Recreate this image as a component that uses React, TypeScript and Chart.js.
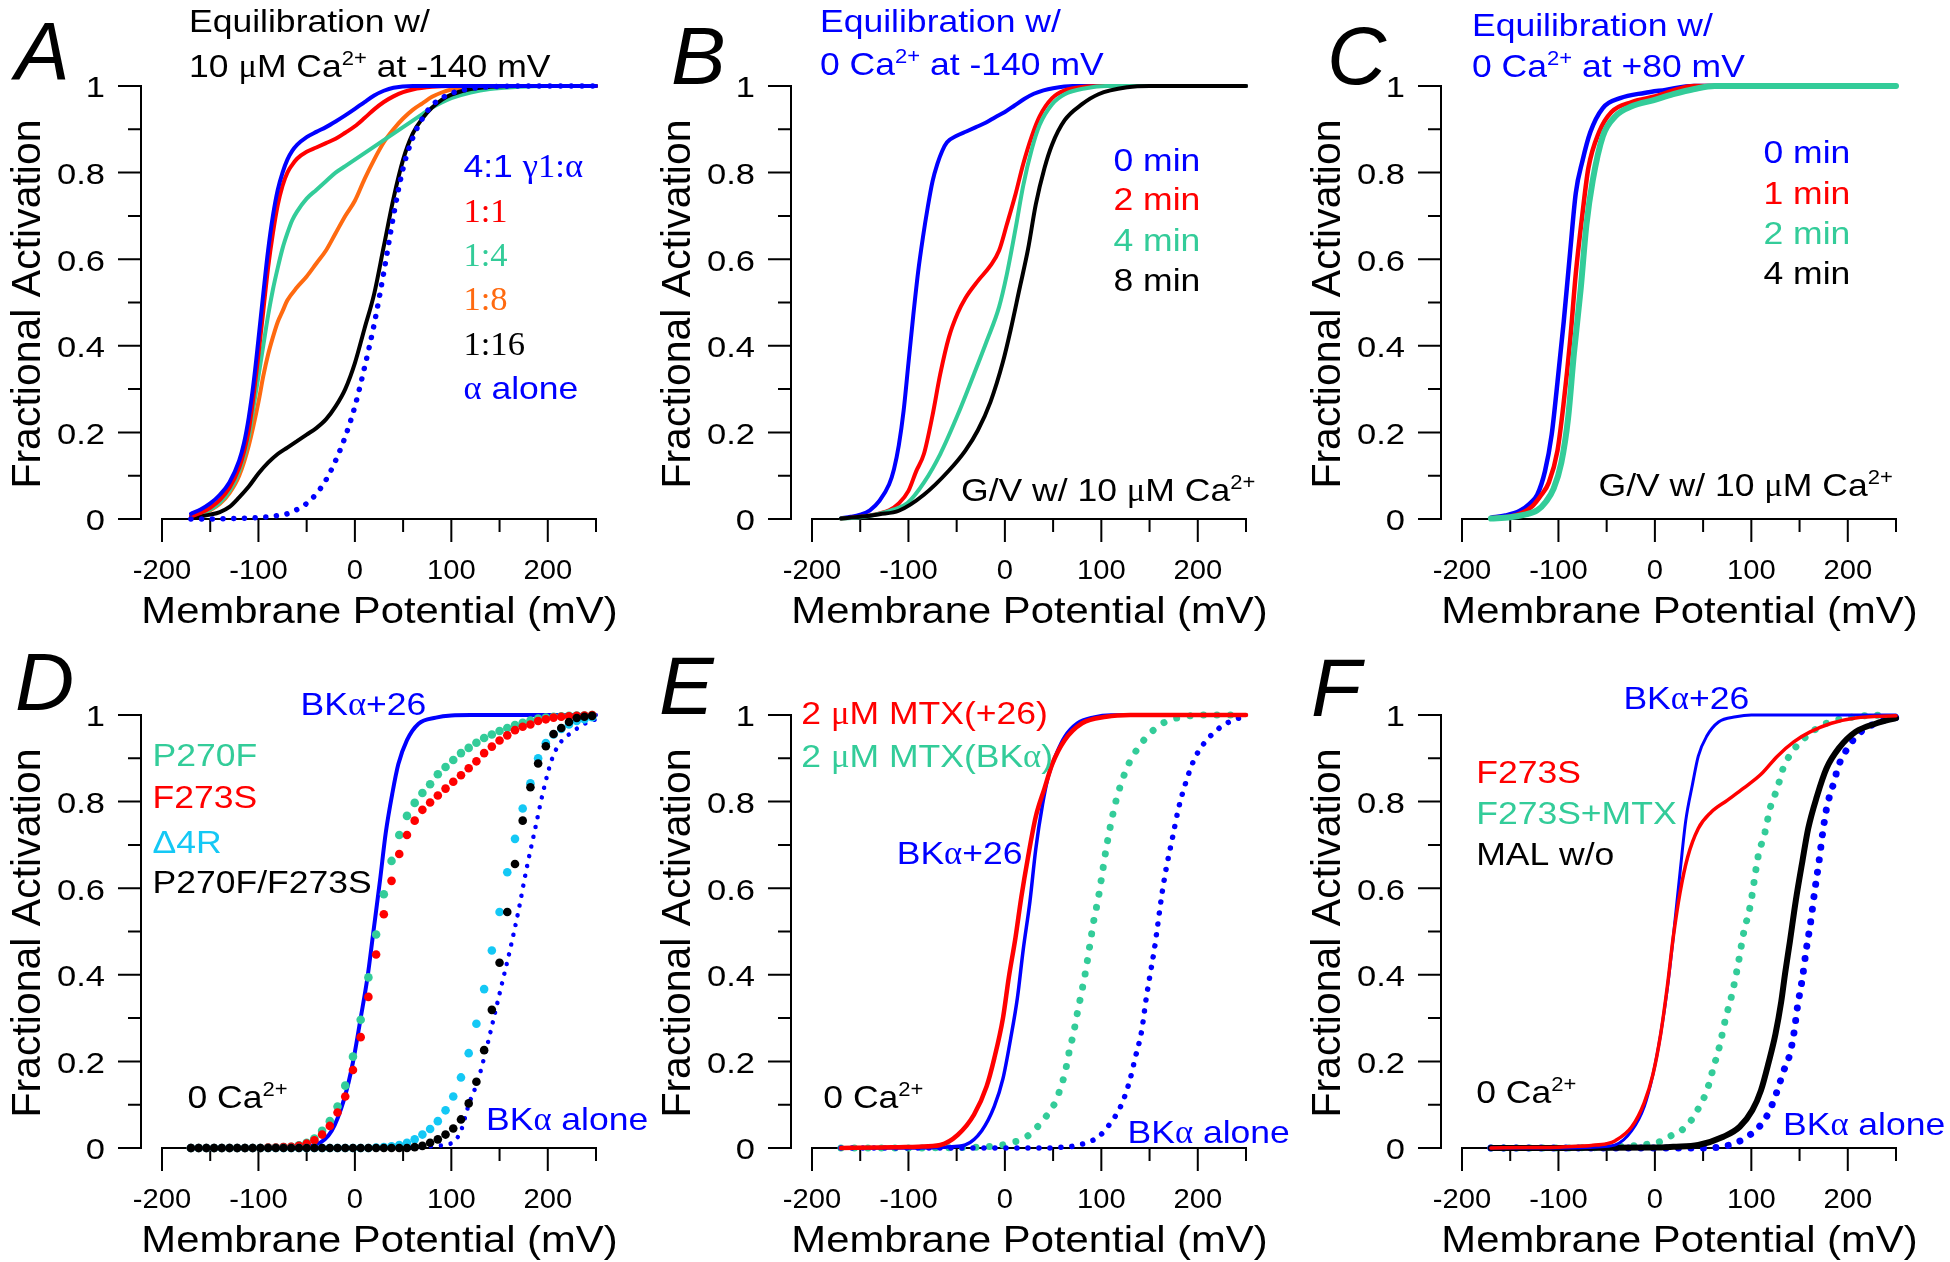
import React, { useEffect, useRef } from 'react';
import { Chart, registerables } from 'chart.js';

Chart.register(...registerables);

type Pt = [number, number];

// ---------------- Panel A: 10 uM Ca, -140 mV ----------------
const A_4to1: Pt[] = [[-170,0.012],[-160,0.022],[-150,0.036],[-140,0.056],[-130,0.085],[-120,0.135],[-115,0.175],[-110,0.235],[-105,0.315],[-100,0.415],[-95,0.52],[-90,0.62],[-85,0.70],[-80,0.76],[-75,0.80],[-70,0.83],[-65,0.85],[-60,0.864],[-50,0.882],[-40,0.894],[-30,0.905],[-20,0.918],[-10,0.932],[0,0.947],[10,0.963],[20,0.978],[30,0.989],[40,0.996],[60,1],[100,1],[250,1]];
const A_1to1: Pt[] = [[-170,0.006],[-160,0.014],[-150,0.026],[-140,0.044],[-130,0.072],[-120,0.118],[-115,0.155],[-110,0.205],[-105,0.285],[-100,0.38],[-95,0.48],[-90,0.58],[-85,0.66],[-80,0.725],[-75,0.77],[-70,0.80],[-65,0.818],[-60,0.832],[-50,0.848],[-40,0.858],[-30,0.868],[-20,0.878],[-10,0.892],[0,0.907],[10,0.926],[20,0.946],[30,0.963],[40,0.976],[50,0.986],[60,0.992],[80,0.998],[100,1],[250,1]];
const A_1to4: Pt[] = [[-170,0.005],[-160,0.012],[-150,0.022],[-140,0.038],[-130,0.065],[-120,0.11],[-110,0.19],[-105,0.26],[-100,0.33],[-95,0.40],[-90,0.47],[-85,0.53],[-80,0.58],[-75,0.625],[-70,0.66],[-65,0.69],[-60,0.71],[-50,0.74],[-40,0.76],[-30,0.78],[-20,0.80],[-10,0.815],[0,0.83],[10,0.845],[20,0.86],[30,0.875],[40,0.89],[50,0.905],[60,0.92],[70,0.935],[80,0.95],[90,0.962],[100,0.972],[120,0.985],[140,0.993],[170,0.998],[200,1],[250,1]];
const A_1to8: Pt[] = [[-170,0.005],[-160,0.01],[-150,0.02],[-140,0.035],[-130,0.06],[-120,0.10],[-110,0.17],[-100,0.27],[-95,0.33],[-90,0.38],[-85,0.42],[-80,0.455],[-75,0.48],[-70,0.505],[-60,0.535],[-50,0.56],[-40,0.59],[-30,0.62],[-20,0.66],[-10,0.70],[0,0.735],[10,0.785],[20,0.83],[30,0.87],[40,0.90],[50,0.925],[60,0.945],[70,0.96],[80,0.975],[90,0.985],[100,0.992],[120,0.998],[140,1],[250,1]];
const A_1to16: Pt[] = [[-170,0.003],[-160,0.006],[-150,0.01],[-140,0.016],[-130,0.028],[-120,0.05],[-110,0.075],[-100,0.105],[-90,0.13],[-80,0.15],[-70,0.165],[-60,0.18],[-50,0.195],[-40,0.21],[-30,0.23],[-20,0.26],[-10,0.30],[0,0.36],[10,0.44],[20,0.52],[30,0.63],[40,0.74],[50,0.83],[60,0.89],[70,0.925],[80,0.95],[90,0.968],[100,0.98],[120,0.993],[140,0.998],[170,1],[250,1]];
const A_alone: Pt[] = [[-170,0],[-150,0],[-130,0.001],[-110,0.002],[-90,0.005],[-80,0.008],[-70,0.012],[-60,0.022],[-50,0.036],[-40,0.058],[-30,0.09],[-20,0.135],[-10,0.19],[0,0.26],[10,0.35],[20,0.45],[30,0.57],[40,0.70],[50,0.81],[60,0.88],[70,0.925],[80,0.955],[90,0.972],[100,0.983],[120,0.994],[140,0.998],[170,1],[250,1]];

// ---------------- Panel B: 0 Ca at -140 mV ----------------
const B_0min: Pt[] = [[-170,0.002],[-160,0.005],[-150,0.01],[-140,0.02],[-130,0.042],[-120,0.08],[-115,0.115],[-110,0.17],[-105,0.25],[-100,0.36],[-95,0.47],[-90,0.57],[-85,0.65],[-80,0.72],[-75,0.78],[-70,0.82],[-65,0.85],[-60,0.87],[-50,0.885],[-40,0.895],[-30,0.905],[-20,0.915],[-10,0.928],[0,0.94],[10,0.955],[20,0.97],[30,0.982],[40,0.99],[50,0.995],[70,1],[250,1]];
const B_2min: Pt[] = [[-170,0.001],[-150,0.005],[-130,0.013],[-120,0.02],[-110,0.036],[-100,0.065],[-92,0.11],[-84,0.15],[-75,0.24],[-67,0.335],[-58,0.42],[-49,0.475],[-41,0.51],[-28,0.55],[-15,0.585],[-6,0.62],[2,0.68],[11,0.75],[19,0.82],[28,0.885],[36,0.93],[49,0.972],[62,0.99],[80,0.998],[100,1],[250,1]];
const B_4min: Pt[] = [[-170,0.001],[-150,0.004],[-130,0.012],[-115,0.022],[-101,0.037],[-84,0.084],[-67,0.15],[-49,0.24],[-32,0.335],[-19,0.41],[-6,0.49],[2,0.565],[11,0.67],[19,0.77],[28,0.855],[36,0.91],[49,0.958],[62,0.981],[84,0.995],[105,1],[250,1]];
const B_8min: Pt[] = [[-170,0.001],[-150,0.005],[-130,0.011],[-110,0.019],[-84,0.056],[-58,0.112],[-41,0.158],[-28,0.205],[-15,0.27],[-2,0.363],[6,0.437],[15,0.53],[24,0.623],[32,0.726],[41,0.81],[49,0.865],[62,0.921],[80,0.958],[97,0.981],[127,0.997],[150,1],[250,1]];

// ---------------- Panel C: 0 Ca at +80 mV ----------------
const C_0min: Pt[] = [[-170,0.003],[-155,0.008],[-140,0.019],[-130,0.035],[-122,0.056],[-114,0.11],[-107,0.195],[-101,0.316],[-94.5,0.456],[-88,0.614],[-82,0.753],[-75,0.828],[-67,0.893],[-54,0.949],[-36,0.972],[-11,0.984],[11,0.991],[40,1],[250,1]];
const C_1min: Pt[] = [[-170,0.002],[-150,0.006],[-137,0.015],[-127,0.03],[-118,0.055],[-110,0.084],[-101,0.158],[-94.5,0.27],[-88,0.409],[-82,0.567],[-75,0.707],[-69,0.81],[-58,0.893],[-45,0.94],[-24,0.963],[2,0.977],[19,0.99],[41,1],[250,1]];
const C_2min: Pt[] = [[-170,0.001],[-150,0.004],[-135,0.01],[-122,0.02],[-113,0.04],[-105,0.07],[-97,0.13],[-90,0.233],[-84,0.381],[-77,0.53],[-71,0.679],[-64.5,0.781],[-54,0.884],[-41,0.93],[-24,0.953],[-2,0.967],[19,0.981],[41,0.993],[62,1],[250,1]];
const C_4min: Pt[] = [[-170,0.001],[-150,0.004],[-135,0.01],[-122,0.02],[-113,0.04],[-105,0.07],[-97,0.13],[-90,0.233],[-84,0.381],[-77,0.53],[-71,0.679],[-64.5,0.781],[-54,0.884],[-41,0.93],[-24,0.953],[-2,0.967],[19,0.981],[41,0.993],[62,1],[250,1]];

// ---------------- Panel D: mutants, 0 Ca ----------------
const D_BK26: Pt[] = [[-170,0],[-100,0],[-70,0.001],[-55,0.003],[-41,0.007],[-24,0.04],[-11,0.114],[-2,0.198],[6,0.3],[13,0.393],[19,0.496],[26,0.617],[32,0.728],[39,0.821],[45,0.886],[54,0.942],[66,0.98],[84,0.994],[100,0.999],[120,1],[250,1]];
const D_BKalone: Pt[] = [[-170,0],[0,0],[40,0],[62,0.001],[84,0.005],[101,0.012],[110,0.04],[118,0.1],[127,0.152],[135,0.217],[144,0.3],[152,0.375],[161,0.459],[170,0.552],[178,0.645],[187,0.738],[195,0.821],[204,0.896],[212,0.933],[225,0.96],[242,0.984],[250,0.99]];
const D_V: number[] = [-170,-162,-154,-146,-138,-130,-122,-114,-106,-98,-90,-82,-74,-66,-58,-50,-42,-34,-26,-18,-10,-2,6,14,22,30,38,46,54,62,70,78,86,94,102,110,118,126,134,142,150,158,166,174,182,190,198,206,214,222,230,238,246];
const D_P270F: number[] = [0,0,0,0,0,0,0,0,0,0,0.001,0.001,0.002,0.003,0.006,0.012,0.022,0.04,0.062,0.096,0.144,0.211,0.296,0.394,0.493,0.586,0.663,0.723,0.767,0.797,0.82,0.84,0.863,0.88,0.896,0.912,0.924,0.936,0.947,0.955,0.963,0.97,0.977,0.982,0.987,0.992,0.994,0.996,0.997,0.998,0.999,0.999,1.0];
const D_F273S: number[] = [0,0,0,0,0,0,0,0,0,0,0.001,0.001,0.002,0.003,0.005,0.01,0.018,0.031,0.051,0.082,0.119,0.18,0.256,0.349,0.447,0.54,0.617,0.679,0.723,0.756,0.781,0.798,0.814,0.83,0.846,0.861,0.877,0.893,0.912,0.927,0.941,0.953,0.965,0.973,0.978,0.986,0.99,0.994,0.996,0.997,0.998,0.999,1.0];
const D_D4R: number[] = [0,0,0,0,0,0,0,0,0,0,0,0,0,0,0,0,0,0,0,0,0,0,0,0,0.001,0.002,0.004,0.007,0.012,0.02,0.031,0.044,0.062,0.087,0.119,0.163,0.219,0.287,0.367,0.456,0.545,0.637,0.714,0.784,0.842,0.9,0.935,0.955,0.968,0.978,0.986,0.99,0.995];
const D_DOUBLE: number[] = [0,0,0,0,0,0,0,0,0,0,0,0,0,0,0,0,0,0,0,0,0,0,0,0,0,0,0,0,0,0.002,0.005,0.012,0.02,0.031,0.045,0.066,0.103,0.153,0.226,0.319,0.428,0.545,0.656,0.756,0.833,0.888,0.928,0.956,0.97,0.984,0.993,0.996,0.998];

// ---------------- Panel E: MTX ----------------
const E_MTX26: Pt[] = [[-170,0],[-130,0.001],[-110,0.002],[-90,0.003],[-67,0.007],[-49,0.03],[-32,0.077],[-19,0.142],[-11,0.207],[-2,0.3],[4,0.393],[11,0.486],[17,0.579],[24,0.672],[32,0.765],[41,0.83],[49,0.886],[62,0.942],[80,0.981],[105,0.996],[130,1],[250,1]];
const E_MTXBK: Pt[] = [[-170,0],[-100,0],[-50,0.001],[-20,0.003],[0,0.008],[6,0.012],[19,0.021],[30,0.04],[39,0.063],[47,0.086],[54,0.114],[58,0.142],[62,0.17],[67,0.226],[71,0.263],[75,0.31],[80,0.365],[84,0.412],[88,0.467],[92,0.523],[97,0.579],[101,0.635],[105,0.691],[110,0.75],[115,0.80],[121,0.845],[129,0.89],[140,0.93],[148,0.952],[159,0.974],[170,0.988],[183,0.995],[196,0.999],[210,1],[240,1]];
const E_BK26: Pt[] = [[-170,0],[-100,0],[-70,0.001],[-55,0.003],[-41,0.007],[-24,0.04],[-11,0.096],[-2,0.16],[6,0.253],[13,0.347],[19,0.458],[26,0.57],[32,0.69],[39,0.793],[45,0.858],[54,0.914],[62,0.95],[75,0.981],[92,0.995],[110,1],[250,1]];
const E_BKalone: Pt[] = [[-170,0],[40,0],[60,0.002],[75,0.006],[97,0.026],[110,0.059],[120,0.096],[129,0.152],[135,0.207],[142,0.273],[146,0.338],[150,0.393],[155,0.459],[159,0.524],[163,0.589],[168,0.654],[174,0.719],[180,0.784],[187,0.84],[196,0.896],[206,0.933],[217,0.96],[230,0.981],[243,0.993],[250,0.996]];

// ---------------- Panel F: F273S ----------------
const F_BK26: Pt[] = [[-170,0],[-100,0],[-70,0.001],[-55,0.003],[-41,0.007],[-24,0.04],[-11,0.096],[-2,0.17],[6,0.263],[13,0.37],[19,0.486],[26,0.635],[32,0.756],[39,0.84],[45,0.905],[54,0.952],[66,0.984],[84,0.996],[100,1],[250,1]];
const F_F273S: Pt[] = [[-170,0],[-130,0.001],[-100,0.002],[-80,0.004],[-66,0.006],[-50,0.01],[-41,0.017],[-24,0.049],[-11,0.105],[-2,0.17],[6,0.263],[13,0.375],[19,0.486],[26,0.589],[34,0.672],[45,0.738],[58,0.775],[75,0.803],[92,0.831],[110,0.863],[127,0.905],[144,0.938],[161,0.961],[183,0.981],[208,0.993],[250,0.998]];
const F_F273S_MTX: Pt[] = [[-170,0],[-100,0],[-60,0.001],[-30,0.004],[-10,0.008],[2,0.012],[19,0.031],[30,0.045],[39,0.068],[45,0.091],[54,0.133],[60,0.18],[67,0.235],[73,0.296],[80,0.356],[86,0.421],[92,0.496],[99,0.561],[103,0.617],[107,0.673],[114,0.728],[120,0.789],[127,0.831],[133,0.877],[142,0.914],[153,0.942],[166,0.966],[178,0.981],[196,0.992],[217,0.998],[240,1]];
const F_MAL: Pt[] = [[-170,0],[-100,0],[0,0.001],[19,0.003],[45,0.007],[71,0.026],[88,0.049],[101,0.087],[110,0.133],[118,0.198],[125,0.263],[131,0.338],[135,0.403],[140,0.477],[146,0.57],[153,0.663],[159,0.738],[168,0.812],[178,0.877],[191,0.924],[208,0.961],[230,0.981],[250,0.993]];
const F_BKalone: Pt[] = [[-170,0],[0,0],[40,0],[62,0.001],[84,0.012],[99,0.031],[110,0.054],[118,0.082],[127,0.133],[133,0.175],[140,0.217],[144,0.263],[148,0.328],[153,0.393],[157,0.459],[161,0.514],[166,0.598],[170,0.659],[174,0.728],[178,0.784],[185,0.84],[191,0.886],[200,0.924],[211,0.956],[226,0.978],[243,0.991],[250,0.994]];

// ---------------- Axes ----------------
const X_TICKS: number[] = [-200, -150, -100, -50, 0, 50, 100, 150, 200, 250];
const X_LABELS: number[] = [-200, -100, 0, 100, 200];
const Y_TICKS: number[] = [0, 0.1, 0.2, 0.3, 0.4, 0.5, 0.6, 0.7, 0.8, 0.9, 1];
const Y_LABELS: number[] = [0, 0.2, 0.4, 0.6, 0.8, 1];
const X_TITLE = 'Membrane Potential (mV)';
const Y_TITLE = 'Fractional Activation';

const BLUE = '#0000FF';
const RED = '#FF0000';
const GREEN = '#33CC99';
const ORANGE = '#FF6A10';
const CYAN = '#14C8F5';
const BLACK = '#000000';

const SANS = '"Liberation Sans", Arial, Helvetica, sans-serif';
const SERIF = '"Liberation Serif", "Times New Roman", Times, serif';

type Seg = [string, 's' | 'g' | 'u'];
type TextItem = { segs: Seg[]; x: number; y: number; color: string };
type Series = { pts: Pt[]; color: string; kind: 'line' | 'dotted' | 'dots'; w?: number; gap?: number; r?: number };
type PanelSpec = { letter: string; lx: number; ly: number; left: number; top: number; h: number; series: Series[]; texts: TextItem[] };

const W = 690;
const ca2: Seg[] = [['Ca', 's'], ['2+', 'u']];
const dots = (ys: number[]): Pt[] => D_V.map((v, i) => [v, ys[i]] as Pt);

const PANELS: PanelSpec[] = [
  {
    letter: 'A', lx: 15, ly: 79, left: 0, top: 0, h: 640,
    series: [
      { pts: A_1to8, color: ORANGE, kind: 'line', w: 4 },
      { pts: A_1to4, color: GREEN, kind: 'line', w: 4 },
      { pts: A_1to16, color: BLACK, kind: 'line', w: 4 },
      { pts: A_1to1, color: RED, kind: 'line', w: 4 },
      { pts: A_4to1, color: BLUE, kind: 'line', w: 4 },
      { pts: A_alone, color: BLUE, kind: 'dotted', w: 5.5, gap: 10.7 },
    ],
    texts: [
      { segs: [['Equilibration w/', 's']], x: 189, y: 32, color: BLACK },
      { segs: [['10 ', 's'], ['μ', 'g'], ['M ', 's'], ...ca2, [' at -140 mV', 's']], x: 189, y: 76.5, color: BLACK },
      { segs: [['4:1 ', 's'], ['γ1:α', 'g']], x: 463.5, y: 177, color: BLUE },
      { segs: [['1:1', 'g']], x: 463.5, y: 221.5, color: RED },
      { segs: [['1:4', 'g']], x: 463.5, y: 266, color: GREEN },
      { segs: [['1:8', 'g']], x: 463.5, y: 310, color: ORANGE },
      { segs: [['1:16', 'g']], x: 463.5, y: 354.5, color: BLACK },
      { segs: [['α', 'g'], [' alone', 's']], x: 463.5, y: 399, color: BLUE },
    ],
  },
  {
    letter: 'B', lx: 21, ly: 84, left: 650, top: 0, h: 640,
    series: [
      { pts: B_0min, color: BLUE, kind: 'line', w: 4 },
      { pts: B_2min, color: RED, kind: 'line', w: 4 },
      { pts: B_4min, color: GREEN, kind: 'line', w: 4 },
      { pts: B_8min, color: BLACK, kind: 'line', w: 4 },
    ],
    texts: [
      { segs: [['Equilibration w/', 's']], x: 170, y: 32, color: BLUE },
      { segs: [['0 ', 's'], ...ca2, [' at -140 mV', 's']], x: 170, y: 74.5, color: BLUE },
      { segs: [['0 min', 's']], x: 463.5, y: 171, color: BLUE },
      { segs: [['2 min', 's']], x: 463.5, y: 209.5, color: RED },
      { segs: [['4 min', 's']], x: 463.5, y: 250.5, color: GREEN },
      { segs: [['8 min', 's']], x: 463.5, y: 291, color: BLACK },
      { segs: [['G/V w/ 10 ', 's'], ['μ', 'g'], ['M ', 's'], ...ca2], x: 311, y: 501, color: BLACK },
    ],
  },
  {
    letter: 'C', lx: 27, ly: 84, left: 1300, top: 0, h: 640,
    series: [
      { pts: C_4min, color: BLACK, kind: 'line', w: 4 },
      { pts: C_0min, color: BLUE, kind: 'line', w: 4.5 },
      { pts: C_1min, color: RED, kind: 'line', w: 4.5 },
      { pts: C_2min, color: GREEN, kind: 'line', w: 6 },
    ],
    texts: [
      { segs: [['Equilibration w/', 's']], x: 172, y: 36, color: BLUE },
      { segs: [['0 ', 's'], ...ca2, [' at +80 mV', 's']], x: 172, y: 76.5, color: BLUE },
      { segs: [['0 min', 's']], x: 463.5, y: 163, color: BLUE },
      { segs: [['1 min', 's']], x: 463.5, y: 203.5, color: RED },
      { segs: [['2 min', 's']], x: 463.5, y: 243.5, color: GREEN },
      { segs: [['4 min', 's']], x: 463.5, y: 284, color: BLACK },
      { segs: [['G/V w/ 10 ', 's'], ['μ', 'g'], ['M ', 's'], ...ca2], x: 298.5, y: 496, color: BLACK },
    ],
  },
  {
    letter: 'D', lx: 15, ly: 81, left: 0, top: 629, h: 633,
    series: [
      { pts: D_BKalone, color: BLUE, kind: 'dotted', w: 4.5, gap: 10 },
      { pts: D_BK26, color: BLUE, kind: 'line', w: 4 },
      { pts: dots(D_P270F), color: GREEN, kind: 'dots', r: 4.3 },
      { pts: dots(D_F273S), color: RED, kind: 'dots', r: 4.3 },
      { pts: dots(D_D4R), color: CYAN, kind: 'dots', r: 4.3 },
      { pts: dots(D_DOUBLE), color: BLACK, kind: 'dots', r: 4.3 },
    ],
    texts: [
      { segs: [['BK', 's'], ['α', 'g'], ['+26', 's']], x: 300.6, y: 86, color: BLUE },
      { segs: [['P270F', 's']], x: 152.6, y: 137, color: GREEN },
      { segs: [['F273S', 's']], x: 152.6, y: 179, color: RED },
      { segs: [['Δ4R', 's']], x: 152.6, y: 223.5, color: CYAN },
      { segs: [['P270F/F273S', 's']], x: 152.6, y: 264, color: BLACK },
      { segs: [['0 ', 's'], ...ca2], x: 187.4, y: 479, color: BLACK },
      { segs: [['BK', 's'], ['α', 'g'], [' alone', 's']], x: 486, y: 500.6, color: BLUE },
    ],
  },
  {
    letter: 'E', lx: 9, ly: 85, left: 650, top: 629, h: 633,
    series: [
      { pts: E_MTXBK, color: GREEN, kind: 'dotted', w: 7, gap: 13.5 },
      { pts: E_BKalone, color: BLUE, kind: 'dotted', w: 5.5, gap: 11 },
      { pts: E_BK26, color: BLUE, kind: 'line', w: 3.5 },
      { pts: E_MTX26, color: RED, kind: 'line', w: 4.5 },
    ],
    texts: [
      { segs: [['2 ', 's'], ['μ', 'g'], ['M MTX(+26)', 's']], x: 151.3, y: 94.6, color: RED },
      { segs: [['2 ', 's'], ['μ', 'g'], ['M MTX(BK', 's'], ['α', 'g'], [')', 's']], x: 151.3, y: 138, color: GREEN },
      { segs: [['BK', 's'], ['α', 'g'], ['+26', 's']], x: 246.7, y: 234.8, color: BLUE },
      { segs: [['0 ', 's'], ...ca2], x: 173.3, y: 479, color: BLACK },
      { segs: [['BK', 's'], ['α', 'g'], [' alone', 's']], x: 477.6, y: 513.5, color: BLUE },
    ],
  },
  {
    letter: 'F', lx: 11, ly: 87, left: 1300, top: 629, h: 633,
    series: [
      { pts: F_F273S_MTX, color: GREEN, kind: 'dotted', w: 7, gap: 13 },
      { pts: F_BKalone, color: BLUE, kind: 'dotted', w: 7, gap: 12.5 },
      { pts: F_MAL, color: BLACK, kind: 'line', w: 6 },
      { pts: F_BK26, color: BLUE, kind: 'line', w: 3 },
      { pts: F_F273S, color: RED, kind: 'line', w: 3.5 },
    ],
    texts: [
      { segs: [['BK', 's'], ['α', 'g'], ['+26', 's']], x: 323.4, y: 79.7, color: BLUE },
      { segs: [['F273S', 's']], x: 176.2, y: 154, color: RED },
      { segs: [['F273S+MTX', 's']], x: 176.2, y: 194.5, color: GREEN },
      { segs: [['MAL w/o', 's']], x: 176.2, y: 235.6, color: BLACK },
      { segs: [['0 ', 's'], ...ca2], x: 176.2, y: 474, color: BLACK },
      { segs: [['BK', 's'], ['α', 'g'], [' alone', 's']], x: 483, y: 506, color: BLUE },
    ],
  },
];

function drawRich(ctx: CanvasRenderingContext2D, segs: Seg[], x: number, y: number, color: string, fs = 32, sx = 1.11) {
  ctx.save();
  ctx.fillStyle = color;
  ctx.textBaseline = 'alphabetic';
  ctx.textAlign = 'left';
  let cx = x;
  for (const [t, k] of segs) {
    let size = fs;
    let dy = 0;
    let fam = SANS;
    let scale = sx;
    if (k === 'g') { size = fs * 1.08; fam = SERIF; scale = 1.0; }
    if (k === 'u') { size = fs * 0.62; dy = -fs * 0.37; }
    ctx.font = `${size}px ${fam}`;
    const w = ctx.measureText(t).width * scale;
    ctx.save();
    ctx.translate(cx, y + dy);
    ctx.scale(scale, 1);
    ctx.fillText(t, 0, 0);
    ctx.restore();
    cx += w;
  }
  ctx.restore();
}

function drawStretched(ctx: CanvasRenderingContext2D, t: string, x: number, y: number, font: string, sx: number, align: 'left' | 'center' | 'right') {
  ctx.font = font;
  const w = ctx.measureText(t).width * sx;
  let x0 = x;
  if (align === 'center') x0 = x - w / 2;
  if (align === 'right') x0 = x - w;
  ctx.save();
  ctx.translate(x0, y);
  ctx.scale(sx, 1);
  ctx.textAlign = 'left';
  ctx.fillText(t, 0, 0);
  ctx.restore();
}

function makePlugin(spec: PanelSpec) {
  return {
    id: 'igorAxes' + spec.letter,
    beforeDatasetsDraw(chart: any) {
      const ctx: CanvasRenderingContext2D = chart.ctx;
      const xs = chart.scales.x;
      const ys = chart.scales.y;
      const y0 = ys.getPixelForValue(0);
      const y1 = ys.getPixelForValue(1);
      const xL = xs.getPixelForValue(-200);
      const xR = xs.getPixelForValue(250);
      const axX = xL - 21;
      ctx.save();
      ctx.strokeStyle = '#000';
      ctx.lineWidth = 2;
      ctx.lineCap = 'butt';
      ctx.beginPath();
      ctx.moveTo(axX, y0 + 1);
      ctx.lineTo(axX, y1 - 1);
      for (const v of Y_TICKS) {
        const p = ys.getPixelForValue(v);
        const major = Math.round(v * 10) % 2 === 0;
        ctx.moveTo(axX - (major ? 23 : 13), p);
        ctx.lineTo(axX + 1, p);
      }
      ctx.moveTo(xL - 1, y0);
      ctx.lineTo(xR + 1, y0);
      for (const v of X_TICKS) {
        const p = xs.getPixelForValue(v);
        const major = v % 100 === 0;
        ctx.moveTo(p, y0 - 1);
        ctx.lineTo(p, y0 + (major ? 23 : 13));
      }
      ctx.stroke();

      ctx.fillStyle = '#000';
      ctx.textBaseline = 'alphabetic';
      for (const v of X_LABELS) {
        drawStretched(ctx, String(v), xs.getPixelForValue(v), y0 + 60, `27px ${SANS}`, 1.08, 'center');
      }
      for (const v of Y_LABELS) {
        drawStretched(ctx, String(v), axX - 36, ys.getPixelForValue(v) + 11.3, `30px ${SANS}`, 1.15, 'right');
      }
      drawStretched(ctx, X_TITLE, axX + 238.5, y0 + 104, `37px ${SANS}`, 1.13, 'center');
      ctx.save();
      ctx.translate(39.5, (y0 + y1) / 2 + 1.5);
      ctx.rotate(-Math.PI / 2);
      ctx.font = `41px ${SANS}`;
      ctx.textAlign = 'center';
      ctx.fillText(Y_TITLE, 0, 0);
      ctx.restore();
      ctx.restore();
    },
    afterDatasetsDraw(chart: any) {
      const ctx: CanvasRenderingContext2D = chart.ctx;
      ctx.save();
      ctx.fillStyle = '#000';
      ctx.font = `italic 82px ${SANS}`;
      ctx.textAlign = 'left';
      ctx.textBaseline = 'alphabetic';
      ctx.fillText(spec.letter, spec.lx, spec.ly);
      ctx.restore();
      for (const t of spec.texts) drawRich(ctx, t.segs, t.x, t.y, t.color);
    },
  };
}

function buildDatasets(series: Series[]) {
  return series.map((s, i) => {
    const base: any = {
      data: s.pts.map(([x, y]) => ({ x, y })),
      order: -i,
      clip: false,
      fill: false,
    };
    if (s.kind === 'line') {
      return { ...base, borderColor: s.color, borderWidth: s.w, pointRadius: 0, cubicInterpolationMode: 'monotone', borderCapStyle: 'round', borderJoinStyle: 'round' };
    }
    if (s.kind === 'dotted') {
      return { ...base, borderColor: s.color, borderWidth: s.w, borderDash: [0.001, s.gap], borderCapStyle: 'round', borderJoinStyle: 'round', pointRadius: 0, cubicInterpolationMode: 'monotone' };
    }
    return { ...base, showLine: false, pointRadius: s.r, pointBackgroundColor: s.color, pointBorderColor: s.color, pointBorderWidth: 0, pointStyle: 'circle' };
  });
}

function Panel({ spec }: { spec: PanelSpec }) {
  const ref = useRef<HTMLCanvasElement>(null);
  useEffect(() => {
    const canvas = ref.current;
    if (!canvas) return;
    const chart = new Chart(canvas, {
      type: 'line',
      data: { datasets: buildDatasets(spec.series) as any },
      options: {
        animation: false,
        responsive: false,
        maintainAspectRatio: false,
        devicePixelRatio: 1,
        events: [],
        layout: { padding: { left: 162, right: W - 596, top: 86, bottom: spec.h - 519 } },
        scales: {
          x: { type: 'linear', min: -200, max: 250, display: false },
          y: { type: 'linear', min: 0, max: 1, display: false },
        },
        plugins: { legend: { display: false }, tooltip: { enabled: false }, title: { display: false } },
      } as any,
      plugins: [makePlugin(spec) as any],
    });
    return () => chart.destroy();
  }, [spec]);
  return (
    <canvas
      ref={ref}
      width={W}
      height={spec.h}
      style={{ position: 'absolute', left: spec.left, top: spec.top, width: W, height: spec.h }}
    />
  );
}

export default function App() {
  return (
    <div style={{ position: 'absolute', left: 0, top: 0, width: 1950, height: 1262, background: '#ffffff', overflow: 'hidden' }}>
      {PANELS.map((p) => (
        <Panel key={p.letter} spec={p} />
      ))}
    </div>
  );
}
